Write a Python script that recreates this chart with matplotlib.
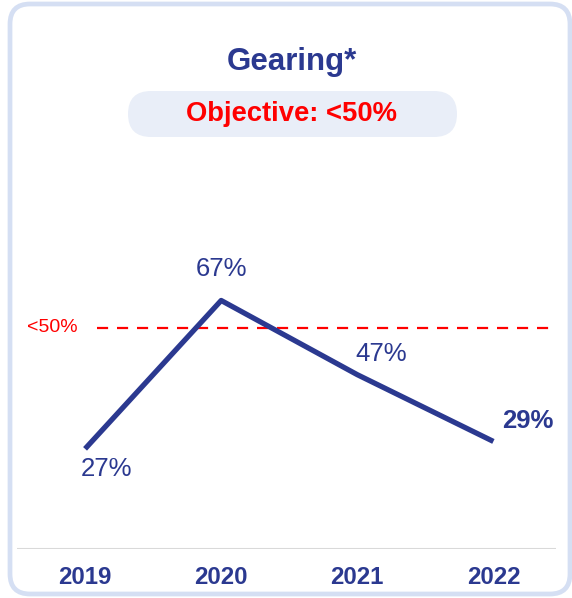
import matplotlib
matplotlib.use("Agg")
import matplotlib.pyplot as plt
from matplotlib.patches import FancyBboxPatch
import matplotlib.transforms as mtransforms

# data
years = ["2019", "2020", "2021", "2022"]
gearing = [27, 67, 47, 29]
objective = 50
objective_line_y = 59.7   # where the dashed marker sits on the chart (not to scale)

NAVY = "#2b3990"
RED = "#ff0000"
W, H = 572, 598

plt.rcParams["font.family"] = ["Liberation Sans", "DejaVu Sans"]

fig = plt.figure(figsize=(W / 100, H / 100), dpi=100)
# pixel coordinates, origin bottom left
px = mtransforms.Affine2D().scale(1 / W, 1 / H) + fig.transFigure

# card border
card = FancyBboxPatch((10, 4), 560, 590,
                      boxstyle="round,pad=0,rounding_size=20",
                      transform=px, facecolor="white",
                      edgecolor="#d5dff3", linewidth=3.4, zorder=-5)
fig.patches.append(card)

# title and objective pill
fig.text(292 / W, 1 - 62 / H, "Gearing*", ha="center", va="center",
         fontsize=22.5, fontweight="bold", color=NAVY)
pill = FancyBboxPatch((128, H - 137), 329, 46,
                      boxstyle="round,pad=0,rounding_size=23",
                      transform=px, facecolor="#e9eef8",
                      edgecolor="none", zorder=-4)
fig.patches.append(pill)
fig.text(292 / W, 1 - 114 / H, f"Objective: <{objective}%", ha="center",
         va="center", fontsize=19.7, fontweight="bold", color=RED)

# plot area
ax = fig.add_axes([17 / W, (H - 549) / H, (556 - 17) / W, (549 - 230) / H])
ax.set_zorder(3)
ax.set_xlim(-0.5, 3.46)
ax.set_ylim(0, 86)
ax.axis("off")
ax.patch.set_alpha(0)

x = list(range(len(years)))
ax.axhline(0, color="#d9d9d9", linewidth=1.5)
ax.plot([0.09, 3.46], [objective_line_y] * 2, color=RED, linewidth=1.6,
        dashes=(5, 4))
ax.text(-0.43, objective_line_y, f"<{objective}%", ha="left", va="center",
        fontsize=14, color=RED)
ax.plot(x, gearing, color=NAVY, linewidth=3.8, solid_capstyle="butt")

# value labels
offsets = [(0.154, -5.4), (0, 8.6), (0.176, 5.7), (0.25, 5.6)]
for i, v in enumerate(gearing):
    dx, dy = offsets[i]
    last = i == len(gearing) - 1
    ax.text(x[i] + dx, v + dy, f"{v}%", ha="center", va="center",
            fontsize=18.5, color=NAVY, fontweight="bold" if last else "normal")

# year labels
trans = mtransforms.blended_transform_factory(ax.transData, fig.transFigure)
for i, yr in enumerate(years):
    ax.text(x[i], 1 - 577 / H, yr, transform=trans, ha="center", va="center",
            fontsize=17.3, fontweight="bold", color=NAVY)

fig.savefig("out.png", dpi=100)
